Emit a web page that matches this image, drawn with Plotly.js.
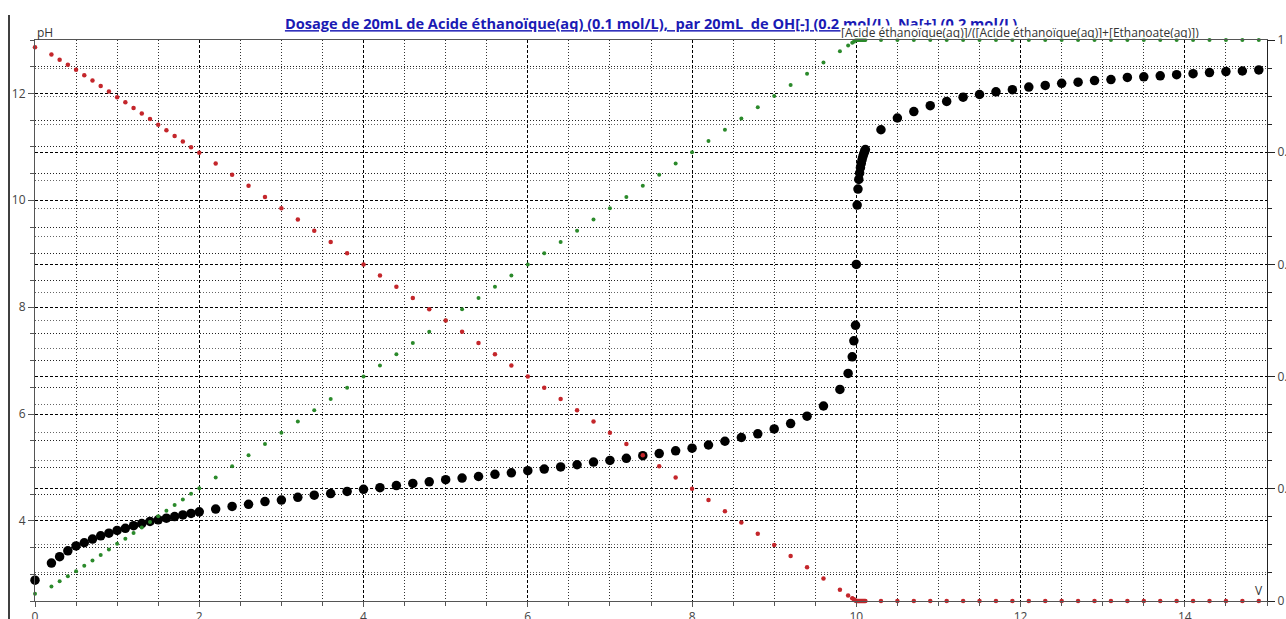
<!DOCTYPE html>
<html>
<head>
<meta charset="utf-8">
<script src="https://cdn.plot.ly/plotly-3.0.1.min.js"></script>
<style>html,body{margin:0;padding:0;background:#fff;}#chart{width:1286px;height:619px;}</style>
</head>
<body>
<div id="chart"></div>
<script>
// Volume of NaOH added (mL)
const volume = [0, 0.2, 0.3, 0.4, 0.5, 0.6, 0.7, 0.8, 0.9, 1.0, 1.1, 1.2, 1.3, 1.4, 1.5, 1.6, 1.7, 1.8, 1.9, 2.0,
  2.2, 2.4, 2.6, 2.8, 3.0, 3.2, 3.4, 3.6, 3.8, 4.0, 4.2, 4.4, 4.6, 4.8, 5.0, 5.2, 5.4, 5.6, 5.8, 6.0,
  6.2, 6.4, 6.6, 6.8, 7.0, 7.2, 7.4, 7.6, 7.8, 8.0, 8.2, 8.4, 8.6, 8.8, 9.0, 9.2, 9.4, 9.6, 9.8,
  9.9, 9.95, 9.97, 9.99, 10.0, 10.01, 10.02, 10.03, 10.04, 10.05, 10.06, 10.07, 10.08, 10.09, 10.10, 10.11,
  10.3, 10.5, 10.7, 10.9, 11.1, 11.3, 11.5, 11.7, 11.9, 12.1, 12.3, 12.5, 12.7, 12.9, 13.1, 13.3, 13.5,
  13.7, 13.9, 14.1, 14.3, 14.5, 14.7, 14.9, 15.1];

// pH values
const pH = [2.89, 3.21, 3.33, 3.44, 3.53, 3.59, 3.66, 3.72, 3.77, 3.82, 3.86, 3.91, 3.95, 3.99, 4.02, 4.05, 4.08, 4.11, 4.14, 4.17,
  4.22, 4.27, 4.31, 4.36, 4.39, 4.44, 4.48, 4.51, 4.55, 4.59, 4.62, 4.66, 4.70, 4.73, 4.77, 4.80, 4.83, 4.87, 4.90, 4.94,
  4.97, 5.01, 5.05, 5.10, 5.13, 5.17, 5.22, 5.26, 5.31, 5.36, 5.42, 5.49, 5.56, 5.63, 5.72, 5.82, 5.96, 6.15, 6.46,
  6.76, 7.07, 7.37, 7.66, 8.80, 9.91, 10.21, 10.39, 10.51, 10.61, 10.69, 10.76, 10.82, 10.87, 10.91, 10.95,
  11.32, 11.54, 11.66, 11.77, 11.85, 11.93, 11.98, 12.03, 12.07, 12.12, 12.15, 12.19, 12.21, 12.24, 12.26, 12.30, 12.31,
  12.33, 12.35, 12.37, 12.39, 12.41, 12.42, 12.44, 12.45];

// [Acide éthanoïque]/([Acide éthanoïque]+[Ethanoate])
const fracAcid = [0.987, 0.974, 0.965, 0.956, 0.947, 0.937, 0.928, 0.918, 0.908, 0.898, 0.889, 0.879, 0.869, 0.859, 0.849, 0.839, 0.829, 0.819, 0.809, 0.799,
  0.78, 0.76, 0.74, 0.72, 0.70, 0.68, 0.66, 0.64, 0.62, 0.60, 0.58, 0.56, 0.54, 0.52, 0.50, 0.48, 0.46, 0.44, 0.42, 0.40,
  0.38, 0.36, 0.34, 0.32, 0.30, 0.28, 0.26, 0.24, 0.22, 0.20, 0.18, 0.16, 0.14, 0.12, 0.10, 0.08, 0.06, 0.04, 0.02,
  0.01, 0.005, 0.003, 0.001, 0, 0, 0, 0, 0, 0, 0, 0, 0, 0, 0, 0,
  0, 0, 0, 0, 0, 0, 0, 0, 0, 0, 0, 0, 0, 0, 0, 0, 0,
  0, 0, 0, 0, 0, 0, 0, 0];

// [Ethanoate]/([Acide éthanoïque]+[Ethanoate])
const fracBase = [0.013, 0.026, 0.035, 0.044, 0.053, 0.063, 0.072, 0.082, 0.092, 0.102, 0.111, 0.121, 0.131, 0.141, 0.151, 0.161, 0.171, 0.181, 0.191, 0.201,
  0.22, 0.24, 0.26, 0.28, 0.30, 0.32, 0.34, 0.36, 0.38, 0.40, 0.42, 0.44, 0.46, 0.48, 0.50, 0.52, 0.54, 0.56, 0.58, 0.60,
  0.62, 0.64, 0.66, 0.68, 0.70, 0.72, 0.74, 0.76, 0.78, 0.80, 0.82, 0.84, 0.86, 0.88, 0.90, 0.92, 0.94, 0.96, 0.98,
  0.99, 0.995, 0.997, 0.999, 1, 1, 1, 1, 1, 1, 1, 1, 1, 1, 1, 1,
  1, 1, 1, 1, 1, 1, 1, 1, 1, 1, 1, 1, 1, 1, 1, 1, 1,
  1, 1, 1, 1, 1, 1, 1, 1];

const titleText = 'Dosage de 20mL de Acide éthanoïque(aq) (0.1 mol/L),  par 20mL  de OH[-] (0.2 mol/L), Na[+] (0.2 mol/L)';
const ratioLabel = '[Acide éthanoïque(aq)]/([Acide éthanoïque(aq)]+[Ethanoate(aq)])';

const traces = [
  {x: volume, y: pH, type: 'scatter', mode: 'markers', name: 'pH', yaxis: 'y',
   marker: {color: '#000', size: 9.5}, cliponaxis: false},
  {x: volume, y: fracBase, type: 'scatter', mode: 'markers', name: 'Ethanoate', yaxis: 'y2',
   marker: {color: '#2b8a2b', size: 4}, cliponaxis: false},
  {x: volume, y: fracAcid, type: 'scatter', mode: 'markers', name: 'Acide', yaxis: 'y2',
   marker: {color: '#c4262b', size: 4.5}, cliponaxis: false}
];

const tickFont = {family: 'Open Sans, sans-serif', size: 12, color: '#444'};

const layout = {
  width: 1286, height: 619,
  margin: {l: 35, r: 19, t: 40, b: 18, pad: 0},
  paper_bgcolor: '#fff', plot_bgcolor: '#fff',
  showlegend: false,
  title: {text: titleText, x: 0.5, xref: 'paper', xanchor: 'center', y: 1 - 24/619, yref: 'container', yanchor: 'middle',
          font: {family: 'Open Sans, sans-serif', size: 14.6, color: '#1a1ab4', weight: 'bold', lineposition: 'under'}},
  xaxis: {range: [0, 15], dtick: 2, tick0: 0, ticks: 'outside', ticklen: 5, tickcolor: '#555',
          showline: true, linecolor: '#555', linewidth: 1, mirror: true, zeroline: false, automargin: false,
          showgrid: true, gridcolor: '#000', griddash: '3px,2px', gridwidth: 1,
          minor: {dtick: 0.5, tick0: 0, ticks: 'outside', ticklen: 4, tickcolor: '#555', showgrid: true, gridcolor: '#333', griddash: '1px,2px', gridwidth: 1},
          tickfont: tickFont},
  yaxis: {range: [2.5, 13], dtick: 2, tick0: 0, ticks: 'outside', ticklen: 6, tickcolor: '#555',
          showline: true, linecolor: '#555', linewidth: 1, zeroline: false, automargin: false,
          showgrid: true, gridcolor: '#000', griddash: '3px,2px', gridwidth: 1,
          minor: {dtick: 0.5, tick0: 0, ticks: 'outside', ticklen: 4, tickcolor: '#555', showgrid: true, gridcolor: '#222', griddash: '1px,2px', gridwidth: 1},
          tickfont: tickFont},
  yaxis2: {range: [0, 1], dtick: 0.2, tick0: 0, overlaying: 'y', side: 'right', ticks: 'outside', ticklen: 7, tickcolor: '#222',
          showline: true, linecolor: '#222', linewidth: 1, zeroline: false, automargin: false,
          showgrid: true, gridcolor: '#000', griddash: '3px,2px', gridwidth: 1,
          minor: {dtick: 0.05, tick0: 0, ticks: 'outside', ticklen: 4, tickcolor: '#222', showgrid: true, gridcolor: '#666', griddash: '1px,2px', gridwidth: 1},
          tickfont: tickFont},
  annotations: [
    {text: ratioLabel, xref: 'paper', yref: 'paper', x: (840-35)/1232, y: 1 + 7.5/561, xanchor: 'left', yanchor: 'middle',
     showarrow: false, bgcolor: '#fff', borderpad: 0, height: 12, font: {family: 'Open Sans, sans-serif', size: 12, color: '#333'}},
    {text: 'pH', xref: 'paper', yref: 'paper', x: 0, y: 1 + 8/561, xanchor: 'left', yanchor: 'middle',
     showarrow: false, font: {family: 'Open Sans, sans-serif', size: 12, color: '#333'}},
    {text: 'V', xref: 'paper', yref: 'paper', x: (1259-35)/1232, y: 11/561, xanchor: 'center', yanchor: 'middle',
     showarrow: false, font: {family: 'Open Sans, sans-serif', size: 12, color: '#333'}}
  ],
  shapes: [
    {type: 'line', xref: 'paper', yref: 'paper', x0: (9-35)/1232, x1: (9-35)/1232, y0: -18/561, y1: (601-15)/561,
     line: {color: '#000', width: 1.5}}
  ]
};

Plotly.newPlot('chart', traces, layout, {displayModeBar: false, staticPlot: true});
</script>
</body>
</html>
